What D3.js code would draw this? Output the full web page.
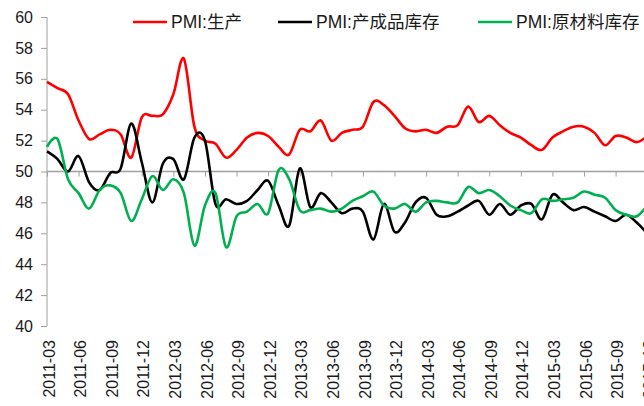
<!DOCTYPE html>
<html>
<head>
<meta charset="utf-8">
<script src="https://cdn.jsdelivr.net/npm/d3@7"></script>
<style>
  html, body { margin: 0; padding: 0; background: #fff; }
  svg { display: block; }
</style>
</head>
<body>
<div id="chart"></div>
<script>
// months 2011-03 .. 2015-12
var months = d3.timeMonth.range(new Date(2011, 2, 1), new Date(2016, 0, 1)).map(d3.timeFormat("%Y-%m"));

var tickLabels = ["2011-03","2011-06","2011-09","2011-12","2012-03","2012-06","2012-09","2012-12",
  "2013-03","2013-06","2013-09","2013-12","2014-03","2014-06","2014-09","2014-12",
  "2015-03","2015-06","2015-09","2015-12"];

var yTicks = [40, 42, 44, 46, 48, 50, 52, 54, 56, 58, 60];

var seriesNames = ["PMI:生产", "PMI:产成品库存", "PMI:原材料库存"];

var production = [55.8,55.4,55.0,53.3,52.1,52.4,52.7,52.4,50.9,53.5,
  53.6,53.7,55.0,57.3,52.9,52.0,51.8,50.9,51.4,52.2,
  52.5,52.3,51.6,51.1,52.7,52.6,53.3,52.0,52.5,52.7,
  52.9,54.5,54.3,53.6,52.8,52.6,52.7,52.5,52.9,53.0,
  54.2,53.2,53.6,53.0,52.5,52.2,51.7,51.4,52.2,52.6,
  52.9,52.9,52.5,51.7,52.3,52.2,51.9,52.3];

var finishedStock = [51.3,50.8,50.0,51.0,49.3,48.8,49.9,50.2,53.1,50.6,
  48.0,50.5,50.8,49.5,52.2,52.0,47.9,48.2,47.9,48.1,
  48.8,49.4,47.8,46.5,50.2,47.7,48.6,48.0,47.3,47.6,
  47.4,45.6,47.9,46.1,46.7,48.0,48.3,47.2,47.1,47.4,
  47.8,48.1,47.2,47.9,47.2,47.8,47.9,46.9,48.5,48.0,
  47.5,47.7,47.4,47.1,46.8,47.2,46.7,46.0];

var rawStock = [51.6,52.1,49.5,48.6,47.6,48.8,49.1,48.6,46.8,48.2,
  49.7,48.8,49.5,48.6,45.2,47.8,48.6,45.1,47.1,47.4,
  47.9,47.3,50.1,49.5,47.5,47.5,47.6,47.4,47.6,48.1,
  48.4,48.7,47.8,47.6,47.9,47.4,48.0,48.1,48.0,48.0,
  49.0,48.6,48.8,48.4,47.8,47.5,47.3,48.2,48.1,48.2,
  48.3,48.7,48.5,48.3,47.5,47.2,47.1,47.8];

var colors = ["#ff0000", "#000000", "#00b050"];
var allSeries = [production, finishedStock, rawStock];

var width = 644, height = 406;
var svg = d3.select("#chart").append("svg")
  .attr("width", width).attr("height", height);

var x = d3.scalePoint().domain(months).range([47, 47 + 10.53 * (months.length - 1)]);
var y = d3.scaleLinear().domain([40, 60]).range([326, 17]);

var axisColor = "#a0a0a0";
var font = "'Liberation Sans', Arial, 'Noto Sans CJK SC', sans-serif";

// y axis
var yAxis = svg.append("g")
  .attr("transform", "translate(47,0)")
  .call(d3.axisLeft(y).tickValues(yTicks).tickSize(6).tickPadding(8));
yAxis.select(".domain").attr("stroke", axisColor).attr("d", "M0," + y(40) + "V" + y(60));
yAxis.selectAll(".tick line").attr("stroke", axisColor);
yAxis.selectAll(".tick text")
  .attr("fill", "#1a1a1a")
  .style("font-family", font)
  .style("font-size", "16px");

// x axis crossing at 50
var tickMonths = months.filter(function(d, i) { return i % 3 == 0; });
var xAxis = svg.append("g")
  .attr("transform", "translate(0," + y(50) + ")")
  .call(d3.axisBottom(x).tickValues(tickMonths).tickSize(5).tickFormat(""));
xAxis.select(".domain").attr("stroke", axisColor).attr("stroke-width", 1.5)
  .attr("d", "M47,0H" + width);
xAxis.selectAll(".tick line").attr("stroke", axisColor);

// x labels at the bottom
svg.append("g").selectAll("text")
  .data(tickLabels)
  .enter().append("text")
  .attr("transform", function(d) { return "translate(" + (x(d) + 2) + ",340) rotate(-90)"; })
  .attr("text-anchor", "end")
  .attr("dy", "0.35em")
  .attr("fill", "#1a1a1a")
  .style("font-family", font)
  .style("font-size", "16px")
  .text(function(d) { return d; });

// lines
var line = d3.line()
  .x(function(d, i) { return x(months[i]); })
  .y(function(d) { return y(d); })
  .curve(d3.curveCatmullRom.alpha(0));

svg.append("g").selectAll("path")
  .data(allSeries)
  .enter().append("path")
  .attr("d", line)
  .attr("fill", "none")
  .attr("stroke", function(d, i) { return colors[i]; })
  .attr("stroke-width", 2.6)
  .attr("stroke-linejoin", "round");

// legend
var legendX = [133, 278, 478];
var legend = svg.append("g").selectAll("g")
  .data(seriesNames)
  .enter().append("g")
  .attr("transform", function(d, i) { return "translate(" + legendX[i] + ",22)"; });
legend.append("line")
  .attr("x1", 0).attr("x2", 34)
  .attr("stroke", function(d, i) { return colors[i]; })
  .attr("stroke-width", 2.6);
legend.append("text")
  .attr("x", 38)
  .attr("dy", "0.35em")
  .attr("fill", "#1a1a1a")
  .style("font-family", font)
  .style("font-size", "17.5px")
  .text(function(d) { return d; });
</script>
</body>
</html>
